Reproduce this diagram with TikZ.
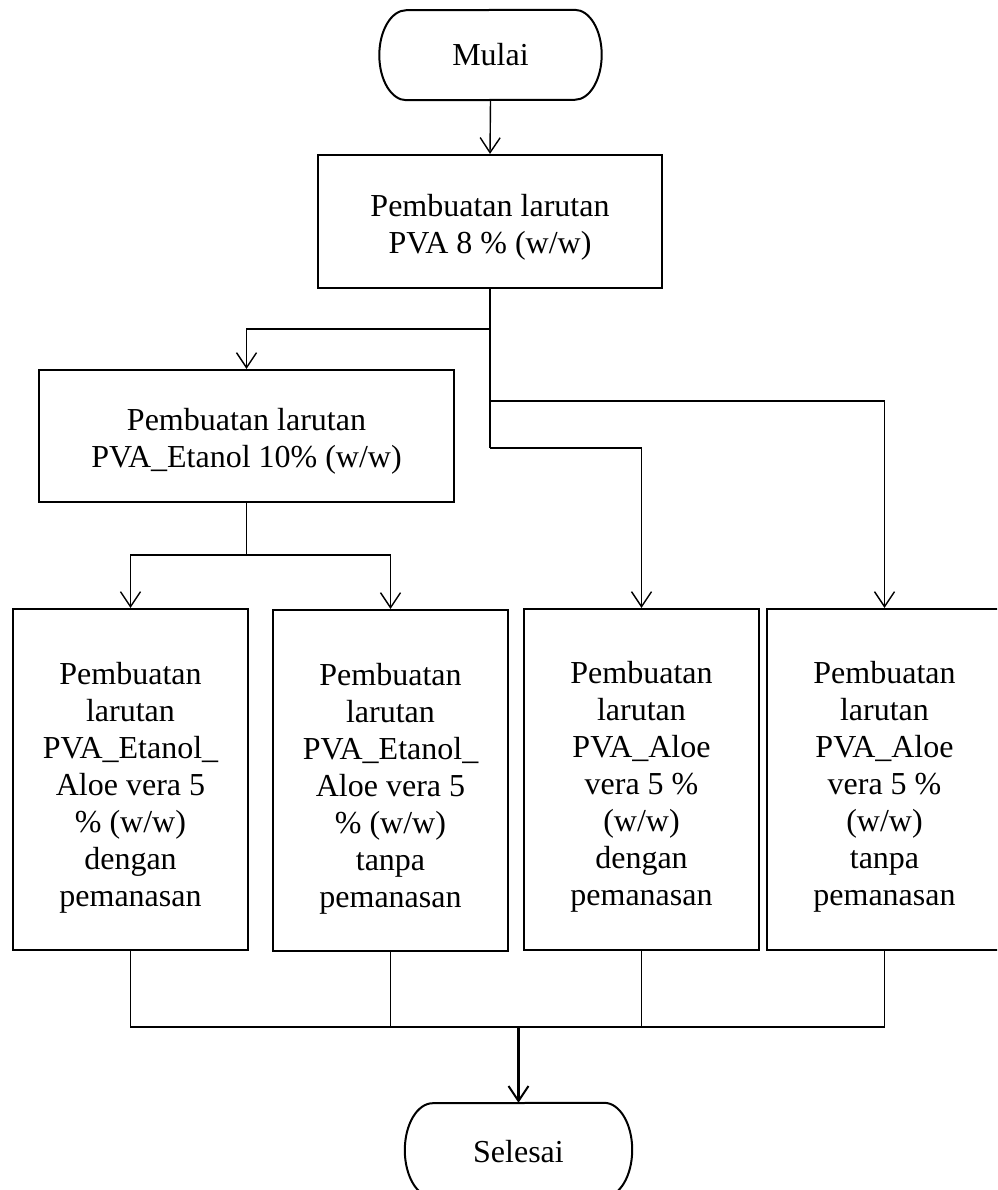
\documentclass[tikz,border=0pt]{standalone}
\usepackage{fontspec}
\setmainfont{Liberation Serif}
\usetikzlibrary{arrows.meta,calc}
\tikzset{
  boxnode/.style={draw, line width=2.2pt, align=center, inner sep=0pt,
    font=\fontsize{32}{37}\selectfont},
  termtext/.style={align=center, inner sep=0pt, font=\fontsize{32}{37}\selectfont},
  termline/.style={line width=2pt},
  conn/.style={line width=1.4pt},
  arr/.style={conn, -{Straight Barb[length=15pt,width=20pt,line width=1.4pt]}},
  thickarr/.style={line width=2.4pt, -{Straight Barb[length=15pt,width=20pt,line width=2pt]}}
}
\newcommand{\termshape}[3]{% name, rx, ry
  \draw[termline] ($(#1.north east)+(-#2pt,0)$)
    arc[start angle=90,end angle=-90,x radius=#2pt,y radius=#3pt]
    -- ($(#1.south west)+(#2pt,0)$)
    arc[start angle=270,end angle=90,x radius=#2pt,y radius=#3pt]
    -- cycle;}
\newcommand{\tstrut}[1]{\rule{0pt}{#1pt}}
\begin{document}
\begin{tikzpicture}[x=1pt,y=1pt]
\clip (0,0) rectangle (997,-1190);
\fill[white] (0,0) rectangle (997,-1190);

% terminals
\node[termtext, minimum width=222pt, minimum height=90pt] (mulai) at (490.5,-55) {Mulai};
\termshape{mulai}{27}{45}
\node[termtext, minimum width=227pt, minimum height=94pt] (selesai) at (518.5,-1150) {\tstrut{25}Selesai};
\termshape{selesai}{28}{47}

% process boxes
\node[boxnode, minimum width=344pt, minimum height=133pt] (box1) at (490,-221.5)
  {\tstrut{34}Pembuatan larutan\\PVA 8 \% (w/w)};
\node[boxnode, minimum width=415pt, minimum height=132pt] (box2) at (246.5,-436)
  {\tstrut{33}Pembuatan larutan\\PVA\_Etanol 10\% (w/w)};
\node[boxnode, minimum width=235pt, minimum height=341pt] (boxA) at (130.5,-779.5)
  {\tstrut{38}Pembuatan\\larutan\\PVA\_Etanol\_\\Aloe vera 5\\\% (w/w)\\dengan\\pemanasan};
\node[boxnode, minimum width=235pt, minimum height=341pt] (boxB) at (390.5,-780.5)
  {\tstrut{38}Pembuatan\\larutan\\PVA\_Etanol\_\\Aloe vera 5\\\% (w/w)\\tanpa\\pemanasan};
\node[boxnode, minimum width=235pt, minimum height=341pt] (boxC) at (641.5,-779.5)
  {\tstrut{36}Pembuatan\\larutan\\PVA\_Aloe\\vera 5 \%\\(w/w)\\dengan\\pemanasan};
\node[boxnode, minimum width=235pt, minimum height=341pt] (boxD) at (884.5,-779.5)
  {\tstrut{36}Pembuatan\\larutan\\PVA\_Aloe\\vera 5 \%\\(w/w)\\tanpa\\pemanasan};

% connectors
\coordinate (f1) at (490,-329);
\coordinate (f2) at (490,-401);
\coordinate (f3) at (490,-448);
\coordinate (f4) at (246.5,-555);
\coordinate (join) at (518.5,-1027);

\draw[arr] (mulai.south) -- (box1.north);
\draw[conn] (box1.south) -- (f3);
\draw[arr] (f1) -| (box2.north);
\draw[arr] (f2) -| (boxD.north);
\draw[arr] (f3) -| (boxC.north);
\draw[conn] (box2.south) -- (f4);
\draw[arr] (f4) -| (boxA.north);
\draw[arr] (f4) -| (boxB.north);

\draw[conn] (boxA.south) |- (join);
\draw[conn] (boxB.south) |- (join);
\draw[conn] (boxC.south) |- (join);
\draw[conn] (boxD.south) |- (join);
\draw[thickarr] (join) -- (selesai.north);
\end{tikzpicture}
\end{document}
